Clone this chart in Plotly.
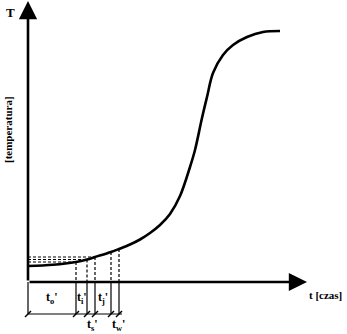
import plotly.graph_objects as go

# Sigmoidal heating curve: time (arbitrary units) vs temperature (arbitrary units)
curve_t = [0, 2.5, 4.8, 5.9, 6.7, 8.3, 9.1, 10.2, 11.2, 12.2, 13.2, 14.2, 15.2, 16.2, 16.7, 17.4, 17.9, 18.5, 19.5, 20.5, 21.9, 23.5, 25.2]
curve_T = [1.6, 1.72, 2.0, 2.25, 2.5, 3.0, 3.3, 3.75, 4.25, 4.9, 5.7, 6.8, 8.6, 11.5, 13.2, 16.4, 18.5, 20.9, 22.7, 23.7, 24.5, 25.0, 25.1]

# Characteristic time marks and corresponding temperatures on the curve
mark_t = [4.8, 5.9, 6.7, 8.3, 9.1]
mark_T = [2.0, 2.25, 2.5, 3.0, 3.3]
hline_count = 3  # first three marks have horizontal dashed guides

# Interval labels (upper row) and lower-row labels
upper_labels = ["t<sub>o</sub>'", "t<sub>i</sub>'", "t<sub>j</sub>'"]
upper_pos = [2.4, 5.35, 7.5]
lower_labels = ["t<sub>s</sub>'", "t<sub>w</sub>'"]
lower_pos = [6.4, 9.0]

x_max_axis = 27.9
y_max_axis = 28.1
bottom_T = -3.2
upper_row_T = -1.6
lower_row_T = -4.3

fig = go.Figure()

# thin extensions below the time axis
for xv in [0] + mark_t:
    fig.add_trace(go.Scatter(x=[xv, xv], y=[0, bottom_T], mode="lines",
                             line=dict(color="black", width=1.2), hoverinfo="skip"))
# bottom baseline
fig.add_trace(go.Scatter(x=[0, mark_t[-1] + 0.3], y=[bottom_T, bottom_T], mode="lines",
                         line=dict(color="black", width=1.2), hoverinfo="skip"))
# small tick marks on the baseline
fig.add_trace(go.Scatter(x=[0] + mark_t, y=[bottom_T] * (len(mark_t) + 1), mode="markers",
                         marker=dict(symbol="line-ne", size=6, line=dict(color="black", width=1.5)),
                         hoverinfo="skip"))

# vertical dashed guides from curve to axis
for xv, yv in zip(mark_t, mark_T):
    fig.add_trace(go.Scatter(x=[xv, xv], y=[yv, 0], mode="lines",
                             line=dict(color="black", width=1.2, dash="3px,2px"), hoverinfo="skip"))
# horizontal dashed guides
for xv, yv in zip(mark_t[:hline_count], mark_T[:hline_count]):
    fig.add_trace(go.Scatter(x=[0, xv], y=[yv, yv], mode="lines",
                             line=dict(color="black", width=1.2, dash="3px,2px"), hoverinfo="skip"))

# main curve
fig.add_trace(go.Scatter(x=curve_t, y=curve_T, mode="lines", line_shape="spline",
                         line=dict(color="black", width=2.6), hoverinfo="skip"))

annotations = []
# axes with arrows
annotations.append(dict(x=0, y=y_max_axis, ax=0, ay=0, xref="x", yref="y", axref="x", ayref="y",
                        showarrow=True, arrowhead=2, arrowsize=1.4, arrowwidth=2.6, arrowcolor="black", text=""))
annotations.append(dict(x=x_max_axis, y=0, ax=0, ay=0, xref="x", yref="y", axref="x", ayref="y",
                        showarrow=True, arrowhead=2, arrowsize=1.4, arrowwidth=2.6, arrowcolor="black", text=""))

serif = "Liberation Serif"
annotations.append(dict(x=-1.8, y=27.0, xref="x", yref="y", text="<b>T</b>", showarrow=False,
                        font=dict(family=serif, size=13, color="black")))
annotations.append(dict(x=-2.0, y=15.2, xref="x", yref="y", text="<b>[temperatura]</b>", showarrow=False,
                        textangle=-90, font=dict(family=serif, size=11, color="black")))
annotations.append(dict(x=29.7, y=-1.3, xref="x", yref="y", text="<b>t [czas]</b>", showarrow=False,
                        font=dict(family=serif, size=11, color="black")))
for lab, xp in zip(upper_labels, upper_pos):
    annotations.append(dict(x=xp, y=upper_row_T, xref="x", yref="y", text="<b>" + lab + "</b>", showarrow=False,
                            font=dict(family=serif, size=12, color="black")))
for lab, xp in zip(lower_labels, lower_pos):
    annotations.append(dict(x=xp, y=lower_row_T, xref="x", yref="y", text="<b>" + lab + "</b>", showarrow=False,
                            font=dict(family=serif, size=12, color="black")))

fig.update_layout(
    width=347, height=334,
    margin=dict(l=0, r=0, t=0, b=0),
    paper_bgcolor="white", plot_bgcolor="white",
    showlegend=False,
    xaxis=dict(range=[-2.8, 31.9], visible=False, fixedrange=True),
    yaxis=dict(range=[-5.2, 28.2], visible=False, fixedrange=True),
    annotations=annotations,
)

fig.write_html("out.html")
